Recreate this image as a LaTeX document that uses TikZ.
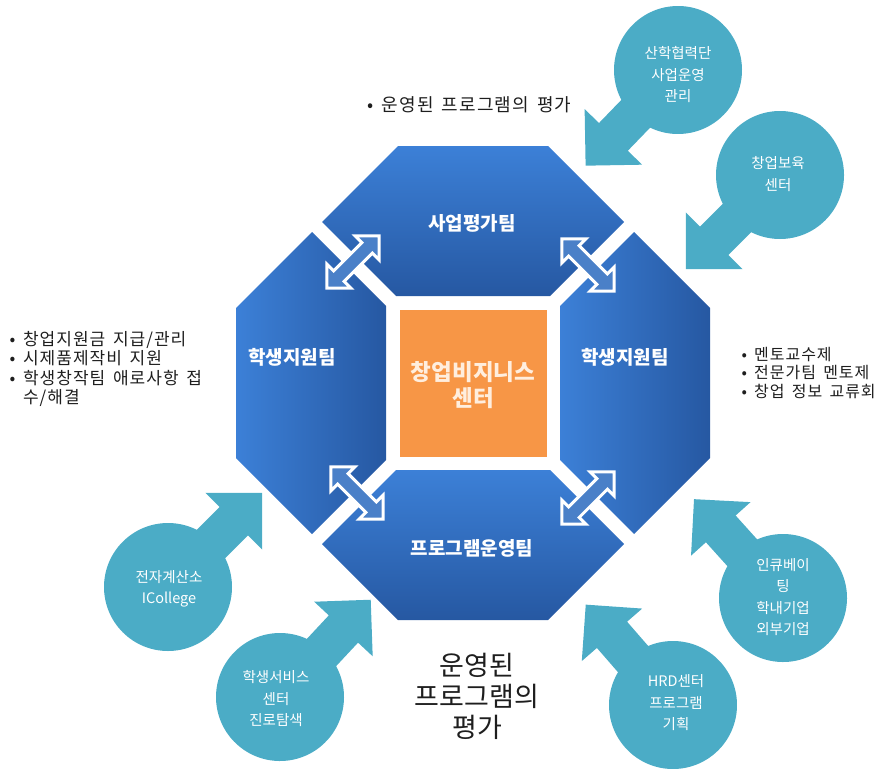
\documentclass[tikz,border=0pt]{standalone}
\usepackage{fontspec}
\setmainfont{Noto Sans CJK KR}
\newfontfamily\bfont[WordSpace=1.6,LetterSpace=6]{Noto Sans CJK KR}
\definecolor{callc}{RGB}{75,172,198}
\definecolor{pieceL}{RGB}{60,128,215}
\definecolor{pieceD}{RGB}{38,88,162}
\definecolor{darrow}{RGB}{74,128,200}
\definecolor{orangec}{RGB}{247,150,70}
\definecolor{ctext}{RGB}{255,238,222}
\definecolor{btext}{RGB}{30,30,30}
\tikzset{
  callfill/.style={fill=callc},
  dblarrow/.style={draw=white,line width=3pt,fill=darrow,line join=miter},
  piecelabel/.style={text=white,font=\bfseries\fontsize{19}{22}\selectfont},
  calltext/.style={text=white,align=center,font=\fontsize{14.5}{21.5}\selectfont},
  bullettext/.style={text=btext,align=left},
}
\newcommand{\callout}[2]{%
  \begin{scope}[shift={#1},rotate=#2]
    \fill[callfill] (0,0) circle (64);
    \fill[callfill] (0,-20) rectangle (94,20);
    \fill[callfill] (93,-40) -- (133,0) -- (93,40) -- cycle;
  \end{scope}}
\newcommand{\dblarr}[2]{%
  \begin{scope}[shift={#1},rotate=#2]
    \path[dblarrow] (-37,0) -- (-20,-17) -- (-20,-7.5) -- (20,-7.5) -- (20,-17) -- (37,0) -- (20,17) -- (20,7.5) -- (-20,7.5) -- (-20,17) -- cycle;
  \end{scope}}
\begin{document}
\begin{tikzpicture}[x=1pt,y=-1pt]
\useasboundingbox (0,0) rectangle (885,771);
% pieces of the octagon
\shade[top color=pieceL,bottom color=pieceD] (398,146) -- (548,146) -- (624,222) -- (550,296) -- (396,296) -- (322,222) -- cycle;
\shade[top color=pieceL,bottom color=pieceD] (396,470) -- (550,470) -- (624,544) -- (548,620) -- (398,620) -- (322,544) -- cycle;
\shade[left color=pieceL,right color=pieceD] (312,232) -- (386,306) -- (386,460) -- (312,534) -- (236,458) -- (236,308) -- cycle;
\shade[left color=pieceL,right color=pieceD] (634,232) -- (710,308) -- (710,458) -- (634,534) -- (560,460) -- (560,306) -- cycle;
% center square
\node[draw=white,line width=5pt,fill=orangec,minimum size=152pt,inner sep=0pt] (center) at (473.5,383.5) {};
\node[text=ctext,align=center,font=\bfseries\fontsize{22.5}{26}\selectfont] (centertext) at (473,385) {창업비지니스\\센터};
% labels
\node[piecelabel] (top) at (472,223) {사업평가팀};
\node[piecelabel] (left) at (292,357) {학생지원팀};
\node[piecelabel] (right) at (625,357) {학생지원팀};
\node[piecelabel] (bottom) at (472,548) {프로그램운영팀};
% double arrows
\dblarr{(353,262)}{45}
\dblarr{(588,265)}{-45}
\dblarr{(357,493)}{-45}
\dblarr{(588,498)}{45}
% callouts
\callout{(678,70)}{226}
\callout{(780,175)}{225}
\callout{(168,587)}{45}
\callout{(280,697)}{47}
\callout{(783,598)}{132}
\callout{(673,705)}{131}
\node[calltext] (c1) at (678,75) {산학협력단\\사업운영\\관리};
\node[calltext] (c2) at (778,174) {창업보육\\센터};
\node[calltext] (c3) at (169,589) {전자계산소\\ICollege};
\node[calltext] (c4) at (276,699) {학생서비스\\센터\\진로탐색};
\node[calltext] (c5) at (783,597) {인큐베이\\팅\\학내기업\\외부기업};
\node[calltext] (c6) at (676,703) {HRD센터\\프로그램\\기획};
% bullet texts
\node[bullettext,anchor=west,font=\bfont\fontsize{18}{20}\selectfont] (btop) at (364,105) {• 운영된 프로그램의 평가};
\node[bullettext,anchor=west,font=\bfont\fontsize{17}{19.3}\selectfont] (bleft) at (6,369) {• 창업지원금 지급/관리\\• 시제품제작비 지원\\• 학생창작팀 애로사항 접\\\phantom{• }수/해결};
\node[bullettext,anchor=west,font=\bfont\fontsize{16}{18.6}\selectfont] (bright) at (738,373) {• 멘토교수제\\• 전문가팀 멘토제\\• 창업 정보 교류회};
\node[text=btext,align=center,font=\fontsize{27}{31}\selectfont] (bottomtext) at (477,696) {운영된\\프로그램의\\평가};
\end{tikzpicture}
\end{document}
